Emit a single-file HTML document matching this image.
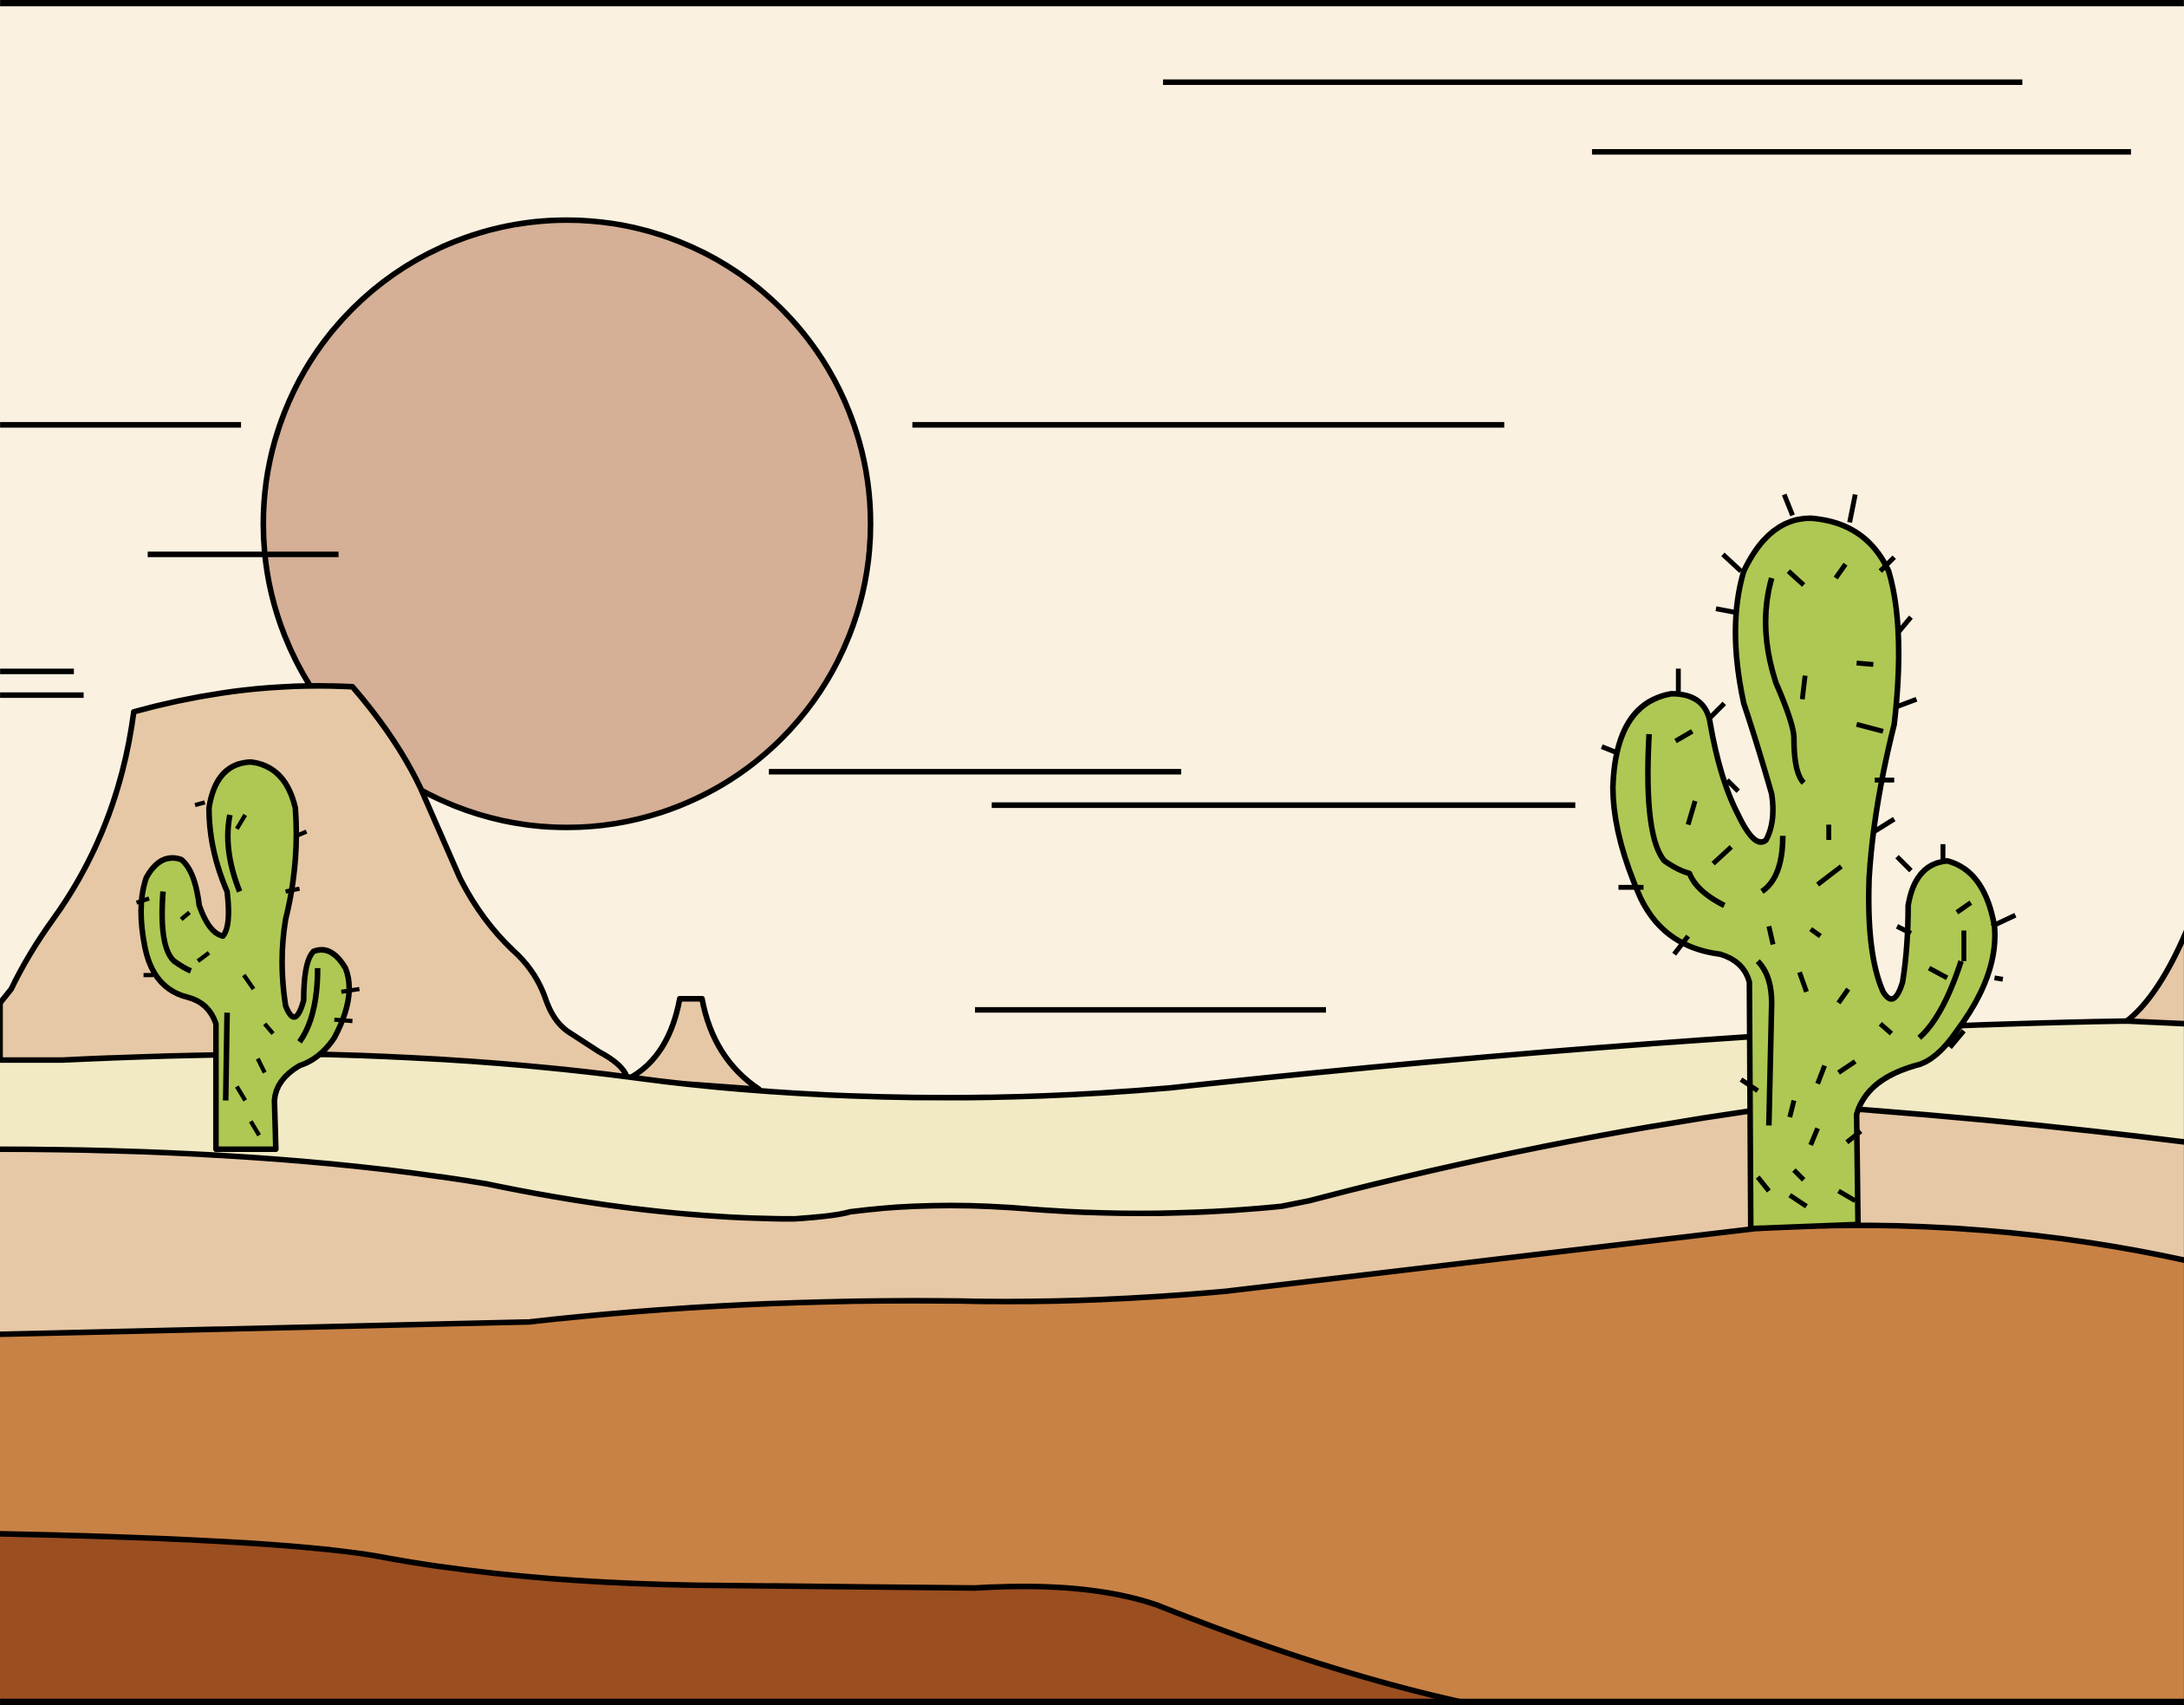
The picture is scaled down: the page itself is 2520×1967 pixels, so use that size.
<!DOCTYPE html>
<html><head><meta charset="utf-8"><style>html,body{margin:0;padding:0;background:#FAF1E1}svg{display:block}</style></head>
<body>
<svg width="2520" height="1967" viewBox="0 0 1568 1224" xmlns="http://www.w3.org/2000/svg" stroke="#000" stroke-width="4" stroke-linejoin="round" stroke-linecap="butt">
<rect x="0" y="0" width="1568" height="1224" fill="#FAF1E1" stroke="none"/>
<g fill="none">
<line x1="835" y1="59" x2="1452" y2="59"/><line x1="1143" y1="109" x2="1530" y2="109"/>
<line x1="0" y1="305" x2="173" y2="305"/><line x1="655" y1="305" x2="1080" y2="305"/>
<line x1="0" y1="482" x2="53" y2="482"/><line x1="0" y1="499" x2="60" y2="499"/>
<line x1="552" y1="554" x2="848" y2="554"/><line x1="712" y1="578" x2="1131" y2="578"/>
<line x1="700" y1="725" x2="952" y2="725"/>
</g>
<circle cx="407" cy="376" r="218" fill="#D5AF96"/>
<line x1="106" y1="398" x2="243" y2="398"/>
<path fill="#E6C8A6" d="M0,720 L8,710 Q20,685 38,660 Q85,595 96,511 Q175,489 253,493 Q285,530 302,566 L330,630 Q345,660 368,682 Q385,697 392,718 Q398,735 410,742 L430,755 Q447,764 450,773 L450,800 L0,800 Z"/>
<path fill="#E6C8A6" d="M450,775 Q480,760 488,717 L504,717 Q512,760 545,782 Z"/>
<path fill="#E6C8A6" d="M1527,733 Q1550,715 1570,668 L1570,760 L1527,760 Z"/>
<path fill="#F1EAC4" d="M-5,761 L45,761 Q150,756 235,757 Q350,760 450,773 Q560,788 680,788 Q760,788 840,781 Q1050,758 1260,744 Q1400,735 1527,733 L1570,735 L1570,1230 L-5,1230 Z"/>
<path fill="#E6C8A6" d="M-5,825 Q200,825 350,850 Q470,875 570,875 Q600,873 610,870 Q670,862 740,868 Q830,875 920,866 L940,862 Q1100,820 1260,797 L1330,796 Q1450,805 1570,820 L1570,1230 L-5,1230 Z"/>
<g>
<path fill="#AEC853" d="M155,825 L155,735 Q150,720 135,716 Q110,710 104,680 Q98,650 105,630 Q115,612 130,617 Q140,625 143,650 Q150,670 160,672 Q166,665 163,640 Q150,610 150,580 Q155,548 180,547 Q205,550 212,580 Q215,620 205,660 Q200,690 205,722 Q212,740 218,718 Q218,690 225,683 Q238,678 248,695 Q256,715 240,745 Q230,760 215,765 Q198,775 197,790 L198,825 Z"/>
<path fill="none" d="M117,640 Q114,680 125,690 Q132,695 137,697 M163,727 L162,790 M165,585 Q160,610 172,640 M228,695 Q228,730 215,748"/>
<g fill="none" stroke-width="3">
<line x1="147" y1="576" x2="140" y2="578"/><line x1="213" y1="600" x2="220" y2="597"/><line x1="205" y1="640" x2="215" y2="638"/><line x1="107" y1="645" x2="98" y2="648"/><line x1="110" y1="700" x2="103" y2="700"/><line x1="245" y1="712" x2="258" y2="710"/><line x1="240" y1="732" x2="253" y2="733"/><line x1="170" y1="595" x2="176" y2="585"/><line x1="175" y1="700" x2="182" y2="710"/><line x1="185" y1="760" x2="190" y2="770"/><line x1="170" y1="780" x2="176" y2="790"/><line x1="190" y1="735" x2="196" y2="742"/><line x1="180" y1="805" x2="186" y2="815"/><line x1="130" y1="660" x2="136" y2="655"/><line x1="142" y1="690" x2="150" y2="684"/>
</g>
</g>
<path fill="#C98245" d="M-5,958 L380,949 Q530,932 690,934 Q780,936 880,927 L1260,882 Q1420,872 1570,905 L1570,1230 L-5,1230 Z"/>
<g>
<path fill="#AEC853" d="M1257,882 L1256,705 Q1252,690 1235,685 Q1195,680 1178,645 Q1158,600 1158,565 Q1160,505 1200,498 Q1225,498 1228,520 Q1235,560 1248,585 Q1260,610 1268,603 Q1275,590 1272,570 Q1262,535 1252,505 Q1240,450 1252,410 Q1270,372 1300,372 Q1340,375 1356,410 Q1368,450 1360,520 Q1345,580 1342,630 Q1340,685 1352,712 Q1360,725 1366,705 Q1370,680 1370,650 Q1375,620 1398,618 Q1425,625 1432,665 Q1435,700 1405,740 Q1390,762 1375,765 Q1340,775 1333,800 L1334,879 Z"/>
<path fill="none" d="M1184,527 Q1180,600 1195,618 Q1205,625 1213,627 Q1218,640 1238,650 M1262,690 Q1272,700 1272,720 L1270,808 M1272,415 Q1262,450 1275,490 Q1288,520 1288,530 Q1288,555 1295,562 M1280,600 Q1280,630 1265,640 M1408,690 Q1395,730 1378,745"/>
<g fill="none" stroke-width="3.5">
<line x1="1287" y1="370" x2="1281" y2="355"/><line x1="1328" y1="375" x2="1332" y2="355"/><line x1="1250" y1="410" x2="1237" y2="398"/><line x1="1350" y1="410" x2="1360" y2="400"/><line x1="1248" y1="440" x2="1232" y2="437"/><line x1="1362" y1="455" x2="1372" y2="443"/><line x1="1360" y1="508" x2="1376" y2="502"/><line x1="1346" y1="560" x2="1360" y2="560"/><line x1="1344" y1="598" x2="1360" y2="588"/><line x1="1205" y1="497" x2="1205" y2="480"/><line x1="1160" y1="540" x2="1150" y2="536"/><line x1="1162" y1="637" x2="1180" y2="637"/><line x1="1202" y1="685" x2="1212" y2="672"/><line x1="1228" y1="515" x2="1238" y2="505"/><line x1="1395" y1="620" x2="1395" y2="606"/><line x1="1430" y1="665" x2="1447" y2="657"/><line x1="1432" y1="702" x2="1438" y2="703"/><line x1="1410" y1="740" x2="1400" y2="752"/><line x1="1372" y1="625" x2="1362" y2="615"/><line x1="1362" y1="665" x2="1372" y2="670"/><line x1="1250" y1="775" x2="1262" y2="783"/><line x1="1336" y1="812" x2="1326" y2="820"/><line x1="1320" y1="855" x2="1332" y2="862"/>
<line x1="1284" y1="410" x2="1295" y2="420"/><line x1="1318" y1="415" x2="1325" y2="405"/><line x1="1333" y1="476" x2="1345" y2="477"/><line x1="1296" y1="485" x2="1294" y2="502"/><line x1="1333" y1="520" x2="1352" y2="525"/><line x1="1203" y1="532" x2="1215" y2="525"/><line x1="1217" y1="575" x2="1212" y2="592"/><line x1="1240" y1="560" x2="1248" y2="568"/><line x1="1230" y1="620" x2="1243" y2="608"/><line x1="1313" y1="592" x2="1313" y2="603"/><line x1="1305" y1="635" x2="1322" y2="622"/><line x1="1270" y1="665" x2="1273" y2="678"/><line x1="1300" y1="667" x2="1307" y2="672"/><line x1="1292" y1="698" x2="1297" y2="712"/><line x1="1320" y1="720" x2="1327" y2="710"/><line x1="1350" y1="735" x2="1358" y2="742"/><line x1="1310" y1="765" x2="1305" y2="778"/><line x1="1320" y1="770" x2="1332" y2="762"/><line x1="1288" y1="790" x2="1285" y2="802"/><line x1="1305" y1="810" x2="1300" y2="822"/><line x1="1262" y1="845" x2="1270" y2="855"/><line x1="1288" y1="840" x2="1295" y2="847"/><line x1="1285" y1="858" x2="1297" y2="866"/><line x1="1410" y1="668" x2="1410" y2="690"/><line x1="1385" y1="695" x2="1398" y2="702"/><line x1="1405" y1="655" x2="1415" y2="648"/>
</g>
</g>
<path fill="#9B4E20" d="M-5,1101 Q200,1105 270,1117 Q370,1136 500,1138 L700,1140 Q780,1135 830,1152 Q950,1200 1050,1222 L1050,1230 L-5,1230 Z"/>
<line x1="0" y1="2" x2="1568" y2="2" stroke-width="5"/>
<line x1="0" y1="1222" x2="1568" y2="1222" stroke-width="5"/>
</svg>
</body></html>
